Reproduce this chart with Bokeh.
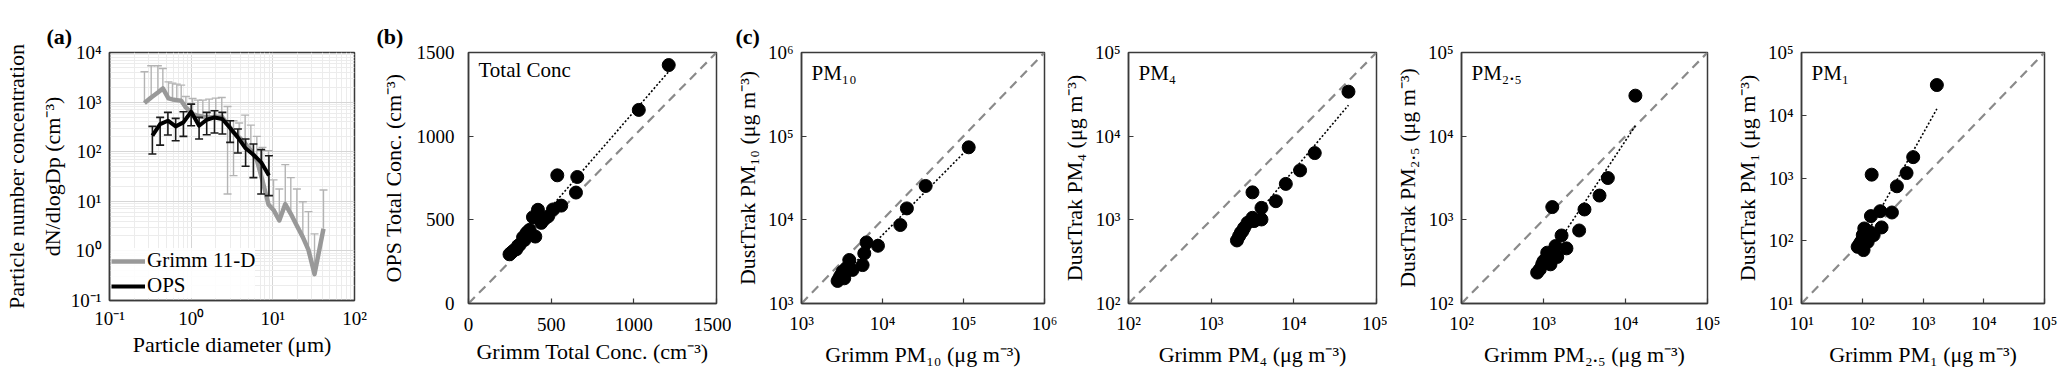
import numpy as np
from bokeh.plotting import figure
from bokeh.layouts import row
from bokeh.models import (Label, CustomJSTickFormatter, FixedTicker, Range1d,
                          Legend, LegendItem)
from bokeh.embed import file_html
from bokeh.resources import INLINE

# ---------------- data ----------------
# (a) particle size distributions
grimm_d = [0.268, 0.324, 0.391, 0.450, 0.527, 0.590, 0.667, 0.755, 0.861, 1.04, 1.21, 1.39,
           1.66, 2.00, 2.37, 2.79, 3.30, 3.87, 4.58, 5.38, 6.37, 7.47, 8.85, 10.2, 12.0, 14.2,
           16.6, 19.7, 23.3, 27.3, 32.4, 41.7]
grimm_mean = [955, 1241, 1565, 1885, 1186, 1132, 1097, 1064, 781, 573, 531, 507, 491, 507, 507,
              361, 245, 194, 147, 105, 68, 26, 8.6, 6.7, 4.1, 8.8, 5.6, 3.2, 1.9, 1.05, 0.34, 2.8]
grimm_hi = [4080, 5400, 5400, 4770, 2560, 2410, 2300, 2200, 1300, 1186, 1097, 1097, 1149, 1205,
            1241, 818, 421, 378, 547, 344, 204, 122, 105, 27, 17.7, 55, 30, 17.7, 9.8, 6.2, 2.2, 16.9]
grimm_lo = [955, 1241, 1565, 1885, 1186, 1132, 1097, 1064, 781, 573, 531, 507, 491, 507, 507,
            14, 33, 194, 147, 105, 68, 26, 8.6, 6.7, 4.1, 8.8, 5.6, 3.2, 1.9, 1.05, 0.34, 2.8]
ops_d = [0.335, 0.417, 0.519, 0.646, 0.804, 1.00, 1.25, 1.55, 1.93, 2.41, 3.00, 3.73, 4.64,
         5.78, 7.20, 8.96]
ops_mean = [210, 361, 421, 324, 390, 638, 334, 441, 491, 455, 300, 194, 117, 87, 61, 33]
ops_hi = [324, 491, 620, 469, 638, 912, 491, 620, 670, 620, 421, 286, 180, 143, 110, 83]
ops_lo = [90, 136, 217, 166, 204, 334, 180, 220, 238, 227, 154, 94, 51, 30, 14, 13]

# (b) total concentration (cm-3)
grimm_total = [1211, 1030, 537, 658, 650, 561, 511, 481, 420, 390, 440, 430, 360, 404, 339, 309,
               289, 275, 259, 248, 330, 370, 350, 300, 460]
ops_total = [1425, 1157, 766, 756, 663, 585, 562, 520, 560, 516, 482, 512, 430, 400, 380, 350,
             324, 318, 304, 294, 395, 440, 420, 345, 505]

# (c) mass concentrations (ug m-3)
grimm_pm10 = [115900, 34100, 20000, 16600, 8790, 6350, 5960, 5680, 3890, 4270, 3210, 2920, 2790,
              3370, 3020, 3550]
dusttrak_pm10 = [73600, 25400, 13700, 8670, 4900, 5370, 3970, 2880, 3310, 2520, 2400, 2000, 1860,
                 2000, 2140, 2630]
grimm_pm4 = [45800, 17900, 11900, 8000, 6060, 3160, 4060, 4060, 2750, 2390, 2180, 2050, 3160, 3310,
             2500, 2280]
dusttrak_pm4 = [34000, 6280, 3900, 2690, 1670, 2130, 1390, 1010, 920, 733, 640, 567, 1057, 966,
                800, 700]
grimm_pm25 = [13200, 6090, 4820, 3160, 1280, 2720, 1660, 1905, 1400, 1470, 1110, 1060, 964, 902,
              837, 1216, 1000, 1150]
dusttrak_pm25 = [30500, 3160, 1950, 1330, 1420, 746, 650, 456, 486, 360, 405, 337, 294, 256, 234,
                 294, 320, 380]
grimm_pm1 = [1690, 690, 536, 372, 143, 308, 198, 139, 208, 154, 108, 102, 95, 84, 105, 123, 130,
             90, 115]
dusttrak_pm1 = [30300, 2150, 1200, 738, 1130, 282, 296, 247, 163, 123, 157, 123, 96, 80, 71, 96,
                140, 88, 110]

# ---------------- style ----------------
FONT = "Liberation Serif"
TICK_FS = "19px"
LABEL_FS = "22px"
OUTLINE = "#3a3a3a"
H = 376

SUP_JS = """
const e = Math.round(Math.log10(tick));
const m = {'-':'\u207b','0':'\u2070','1':'\u00b9','2':'\u00b2','3':'\u00b3','4':'\u2074',
           '5':'\u2075','6':'\u2076','7':'\u2077','8':'\u2078','9':'\u2079'};
return '10' + String(e).split('').map(c => m[c]).join('');
"""


def style_axis(ax, tick_in=5):
    ax.axis_line_color = OUTLINE
    ax.axis_line_width = 1.5
    ax.major_label_text_font = FONT
    ax.major_label_text_font_size = TICK_FS
    ax.major_label_text_color = "black"
    ax.axis_label_text_font = FONT
    ax.axis_label_text_font_size = LABEL_FS
    ax.axis_label_text_font_style = "normal"
    ax.axis_label_text_color = "black"
    ax.minor_tick_line_color = None
    ax.major_tick_in = tick_in
    ax.major_tick_out = 0
    ax.major_tick_line_color = OUTLINE
    ax.major_tick_line_width = 1.2


def base_fig(kind, xr, yr, bl, fw, br, bt, fh, tag=None, tag_offset=0):
    p = figure(x_axis_type=kind, y_axis_type=kind,
               x_range=Range1d(*xr), y_range=Range1d(*yr),
               frame_width=fw, frame_height=fh,
               min_border_left=bl, min_border_right=br, min_border_top=bt,
               min_border_bottom=H - bt - fh,
               output_backend="svg", toolbar_location=None)
    p.outline_line_color = OUTLINE
    p.outline_line_width = 1.5
    p.outline_line_alpha = 1.0
    p.background_fill_color = "white"
    p.border_fill_color = "white"
    style_axis(p.xaxis[0])
    style_axis(p.yaxis[0])
    p.xgrid.grid_line_color = None
    p.ygrid.grid_line_color = None
    if tag:
        p.title.text = tag
        p.title.align = "left"
        p.title.offset = tag_offset
        p.title.text_font = FONT
        p.title.text_font_size = "22px"
        p.title.text_font_style = "bold"
        p.title.text_color = "black"
        p.title.standoff = 8
    return p


def decades(lo, hi):
    return [10.0 ** k for k in range(lo, hi + 1)]


def log_axes(p, lo, hi):
    for ax in (p.xaxis[0], p.yaxis[0]):
        ax.ticker = FixedTicker(ticks=decades(lo, hi))
        ax.formatter = CustomJSTickFormatter(code=SUP_JS)


def add_text(p, text, x, y, size="21px"):
    p.add_layout(Label(x=x, y=y, x_units="screen", y_units="screen", text=text,
                       text_font=FONT, text_font_size=size,
                       text_baseline="middle", text_align="left", text_color="black"))


def scatter_panel(p, x, y, lo, hi, log=True):
    # 1:1 line
    p.line([10.0 ** lo, 10.0 ** hi] if log else [lo, hi],
           [10.0 ** lo, 10.0 ** hi] if log else [lo, hi],
           line_color="#8a8a8a", line_width=2.2, line_dash="9 6")
    x = np.asarray(x, float)
    y = np.asarray(y, float)
    xs = np.array([x.min(), x.max()])
    if log:
        m, c = np.polyfit(np.log10(x), np.log10(y), 1)
        ys = 10 ** (c + m * np.log10(xs))
    else:
        m, c = np.polyfit(x, y, 1)
        ys = c + m * xs
    p.scatter(x, y, marker="circle", size=13, fill_color="black", line_color="black")
    p.line(xs, ys, line_color="black", line_width=1.6, line_dash="2 2")


# ---------------- panel (a) ----------------
pa = base_fig("log", (0.1, 100), (0.1, 1e4), 108, 245, 15, 52, 248, tag="(a)", tag_offset=-63)
pa.xaxis[0].ticker = FixedTicker(ticks=decades(-1, 2),
                                 minor_ticks=[m * 10.0 ** k for k in range(-1, 2) for m in range(2, 10)])
pa.yaxis[0].ticker = FixedTicker(ticks=decades(-1, 4),
                                 minor_ticks=[m * 10.0 ** k for k in range(-1, 4) for m in range(2, 10)])
for ax in (pa.xaxis[0], pa.yaxis[0]):
    ax.formatter = CustomJSTickFormatter(code=SUP_JS)
    ax.major_tick_line_color = None
for g in (pa.xgrid[0], pa.ygrid[0]):
    g.grid_line_color = "#d6d6d6"
    g.grid_line_width = 1
    g.minor_grid_line_color = "#ececec"
    g.minor_grid_line_width = 1
pa.xaxis[0].axis_label = "Particle diameter (\u03bcm)"
pa.xaxis[0].major_label_standoff = 3
pa.xaxis[0].axis_label_standoff = 0
pa.yaxis[0].axis_label = "Particle number concentration\ndN/dlogDp (cm\u207b\u00b3)"
pa.yaxis[0].axis_label_text_line_height = 1.45
pa.yaxis[0].major_label_standoff = 4
pa.yaxis[0].axis_label_standoff = 3

gd = np.array(grimm_d)
gm = np.array(grimm_mean, float)
gh = np.array(grimm_hi, float)
gl = np.array(grimm_lo, float)
GRAY_BAR = "#b4b4b4"
pa.segment(gd, gm, gd, gh, line_color=GRAY_BAR, line_width=1.4)
pa.scatter(gd, gh, marker="dash", size=8, line_color=GRAY_BAR, line_width=1.4)
mk = gl < gm
pa.segment(gd[mk], gl[mk], gd[mk], gm[mk], line_color=GRAY_BAR, line_width=1.4)
pa.scatter(gd[mk], gl[mk], marker="dash", size=8, line_color=GRAY_BAR, line_width=1.4)
r_grimm = pa.line(gd, gm, line_color="#999999", line_width=4.5, line_join="round")

od = np.array(ops_d)
pa.segment(od, ops_lo, od, ops_hi, line_color="#1a1a1a", line_width=1.6)
pa.scatter(od, ops_hi, marker="dash", size=8, line_color="#1a1a1a", line_width=1.6)
pa.scatter(od, ops_lo, marker="dash", size=8, line_color="#1a1a1a", line_width=1.6)
r_ops = pa.line(od, ops_mean, line_color="black", line_width=4, line_join="round")

leg = Legend(items=[LegendItem(label="Grimm 11-D", renderers=[r_grimm]),
                    LegendItem(label="OPS", renderers=[r_ops])],
             location="bottom_left", label_text_font=FONT, label_text_font_size="21px",
             label_text_color="black", glyph_width=34, glyph_height=14, label_standoff=2,
             spacing=-6, padding=2, margin=2, border_line_color=None,
             background_fill_color="white", background_fill_alpha=0.9)
pa.add_layout(leg)

# ---------------- panel (b) ----------------
pb = base_fig("linear", (0, 1500), (0, 1500), 99, 248, 15, 51, 251, tag="(b)", tag_offset=-92)
for ax in (pb.xaxis[0], pb.yaxis[0]):
    ax.ticker = FixedTicker(ticks=[0, 500, 1000, 1500])
pb.xaxis[0].axis_label = "Grimm Total Conc. (cm\u207b\u00b3)"
pb.yaxis[0].axis_label = "OPS Total Conc. (cm\u207b\u00b3)"
pb.xaxis[0].major_label_standoff = 14
pb.xaxis[0].axis_label_standoff = 5
pb.yaxis[0].major_label_standoff = 14
pb.yaxis[0].axis_label_standoff = 8
scatter_panel(pb, grimm_total, ops_total, 0, 1500, log=False)
add_text(pb, "Total Conc", 10, 251 - 17, size="21px")


# ---------------- panel (c) ----------------
def pm_panel(x, y, lo, hi, name, bl, fw, br, tag=None, tag_offset=0):
    p = base_fig("log", (10.0 ** lo, 10.0 ** hi), (10.0 ** lo, 10.0 ** hi), bl, fw, br, 51, 251,
                 tag=tag, tag_offset=tag_offset)
    log_axes(p, lo, hi)
    p.xaxis[0].axis_label = "Grimm " + name + " (\u03bcg m\u207b\u00b3)"
    p.yaxis[0].axis_label = "DustTrak " + name + " (\u03bcg m\u207b\u00b3)"
    p.xaxis[0].major_label_standoff = 9
    p.xaxis[0].axis_label_standoff = 5
    p.yaxis[0].major_label_standoff = 8
    p.yaxis[0].axis_label_standoff = 5
    scatter_panel(p, x, y, lo, hi, log=True)
    add_text(p, name, 10, 251 - 20, size="21px")
    return p


p10 = pm_panel(grimm_pm10, dusttrak_pm10, 3, 6, "PM\u2081\u2080", 69, 243, 14, tag="(c)", tag_offset=-66)
p4 = pm_panel(grimm_pm4, dusttrak_pm4, 2, 5, "PM\u2084", 65, 248, 11)
p25 = pm_panel(grimm_pm25, dusttrak_pm25, 2, 5, "PM\u2082.\u2085", 74, 246, 15)
p1 = pm_panel(grimm_pm1, dusttrak_pm1, 1, 5, "PM\u2081", 79, 243, 23)

layout = row([pa, pb, p10, p4, p25, p1], spacing=0)
open("out.html", "w").write(file_html(layout, INLINE))
